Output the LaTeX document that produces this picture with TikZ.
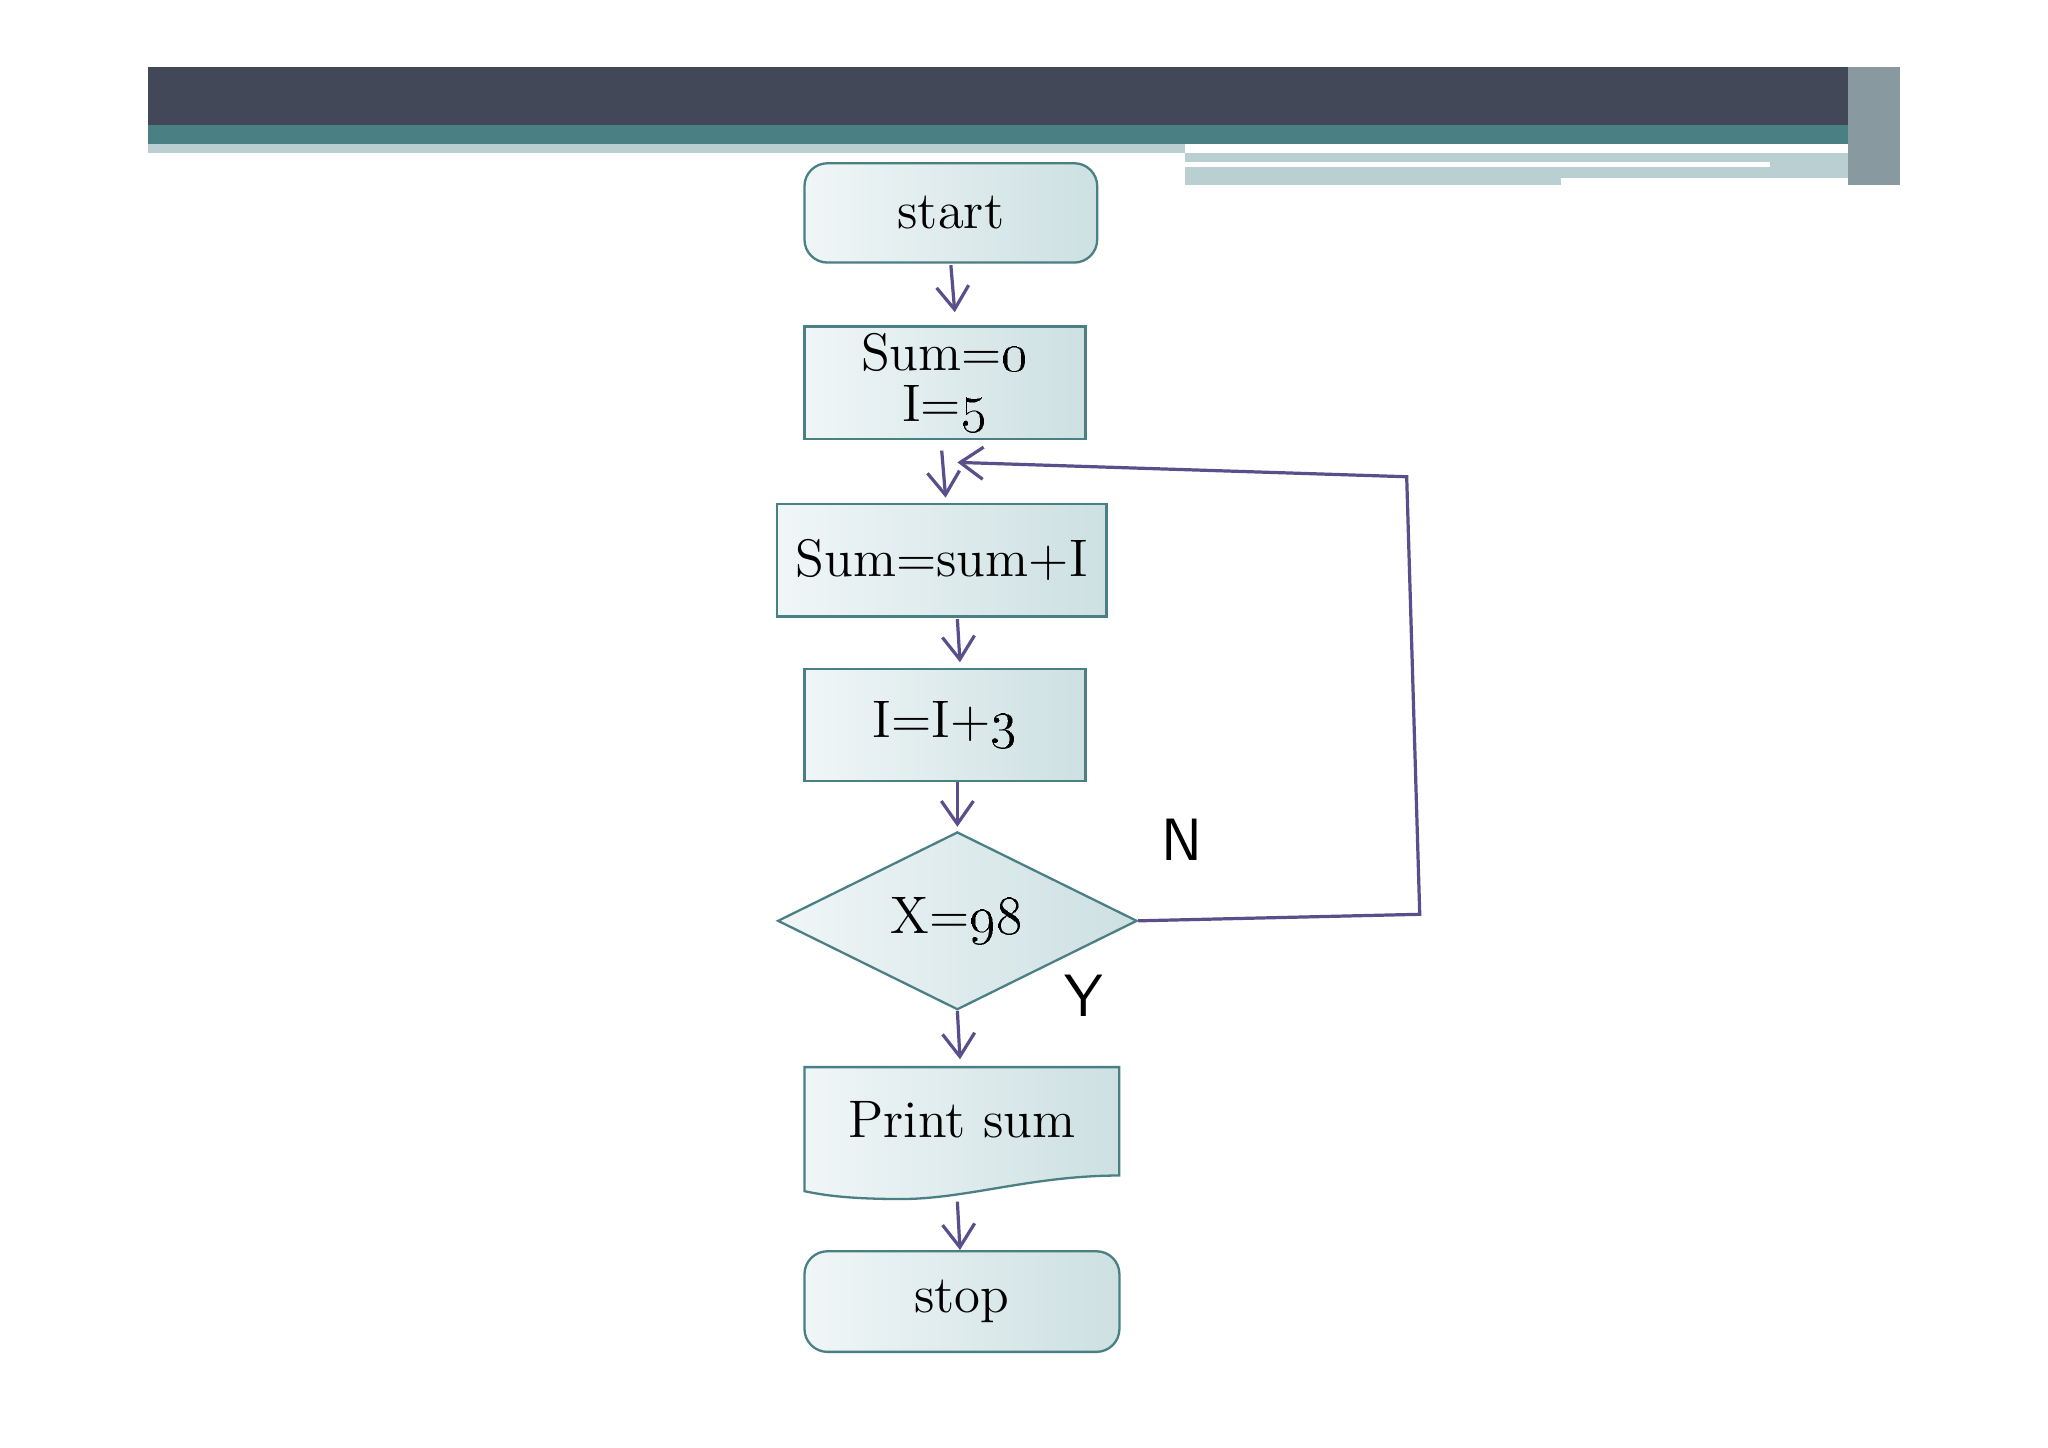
\documentclass[tikz,border=0pt]{standalone}
\usetikzlibrary{shapes.geometric,arrows.meta}
\definecolor{edgec}{HTML}{4A7F84}
\definecolor{arrc}{HTML}{5A4F8A}
\definecolor{fillL}{HTML}{F0F6F7}
\definecolor{fillR}{HTML}{CDE0E2}
\definecolor{darkbar}{HTML}{424857}
\definecolor{tealbar}{HTML}{4A7F84}
\definecolor{hatch}{HTML}{B9CFD1}
\begin{document}
\begin{tikzpicture}[x=0.01cm,y=-0.01cm,
  box/.style={draw=edgec,left color=fillL,right color=fillR,line width=0.5pt,font=\fontsize{11.5}{13}\selectfont,align=center,inner sep=0pt},
  conn/.style={draw=arrc,line width=0.7pt,-{Straight Barb[length=5pt,width=7pt]}},
  lab/.style={font=\sffamily\fontsize{13}{15}\selectfont}]
\useasboundingbox (0,0) rectangle (1568,1108);
\fill[white] (0,0) rectangle (1568,1108);
% header
\fill[darkbar] (113,51) rectangle (1455,96);
\fill[tealbar] (113,96) rectangle (1455,110);
\fill[hatch] (113,110) rectangle (907,117);
\fill[hatch] (907,117) rectangle (1455,142);
\fill[white] (907,124) rectangle (1355,128);
\fill[white] (1195,136) rectangle (1420,142);
\fill[hatch!60!darkbar] (1415,51) rectangle (1455,142);
% nodes
\node[box,rounded corners=5pt,minimum width=2.24cm,minimum height=0.76cm] (start) at (728,163) {start};
\node[box,minimum width=2.15cm,minimum height=0.86cm] (s0) at (723.5,293) {Sum=\oldstylenums{0}\\[-2pt]I=\oldstylenums{5}};
\node[box,minimum width=2.52cm,minimum height=0.86cm] (sum) at (721,429) {Sum=sum+I};
\node[box,minimum width=2.15cm,minimum height=0.86cm] (inc) at (723.5,555) {I=I+\oldstylenums{3}};
\node[box,diamond,aspect=2.02,minimum width=2.75cm,minimum height=1.36cm] (dec) at (733,705) {X=\oldstylenums{98}};
\shade[draw=edgec,left color=fillL,right color=fillR,line width=0.5pt]
  (616,817) -- (857,817) -- (857,900) .. controls (790,900) and (740,918) .. (690,918)
  .. controls (650,918) and (630,915) .. (616,912) -- cycle;
\node[font=\fontsize{11.5}{13}\selectfont,inner sep=0pt,minimum width=2.41cm,minimum height=0.8cm] (pr) at (736.5,857) {Print sum};
\node[box,rounded corners=5pt,minimum width=2.41cm,minimum height=0.77cm] (stop) at (736.5,996.5) {stop};
% connector ends
\coordinate (a1) at (728,203); \coordinate (b1) at (731,239);
\coordinate (a2) at (721,345); \coordinate (b2) at (724,381);
\coordinate (a3) at (733,474); \coordinate (b3) at (735,507);
\coordinate (a4) at (733,599); \coordinate (b4) at (733,633);
\coordinate (b5) at (735,811);
\coordinate (a6) at (733,920); \coordinate (b6) at (735,957);
\draw[conn] (a1) -- (b1);
\draw[conn] (a2) -- (b2);
\draw[conn] (a3) -- (b3);
\draw[conn] (a4) -- (b4);
\draw[conn] (dec.south) -- (b5);
\draw[conn] (a6) -- (b6);
\coordinate (c1) at (1087,700);
\coordinate (c2) at (1077,365);
\coordinate (c3) at (733,354);
\draw[conn] (dec.east) -- (c1) -- (c2) -- (c3);
\node[lab] (N) at (905,643) {N};
\node[lab] (Y) at (830,762) {Y};
\end{tikzpicture}
\end{document}
